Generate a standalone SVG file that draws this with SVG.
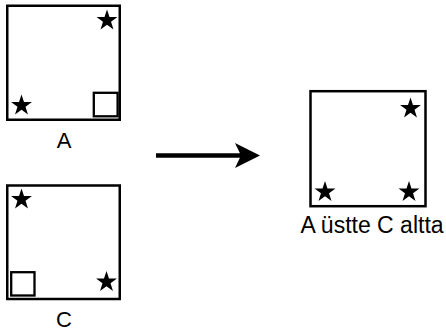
<svg xmlns="http://www.w3.org/2000/svg" xmlns:xlink="http://www.w3.org/1999/xlink" width="446" height="333" viewBox="0 0 446 333">
<defs>
<style>
.box{fill:#fff;stroke:#000;stroke-width:2.5}
.sq{fill:none;stroke:#000;stroke-width:2.3}
.lbl{font-family:"Liberation Sans",Arial,sans-serif;font-size:22px;fill:#000;text-anchor:middle}
</style>
<path id="star" d="M0,-11 L2.49,-3.43 L10.46,-3.4 L4.03,1.31 L6.47,8.9 L0,4.24 L-6.47,8.9 L-4.03,1.31 L-10.46,-3.4 L-2.49,-3.43 Z" fill="#000"/>
<marker id="ah" markerWidth="6" markerHeight="6" refX="0" refY="0" orient="auto" markerUnits="userSpaceOnUse" overflow="visible">
<path d="M-6,-12.5 L19,0 L-6,12.5 L0,0 Z" fill="#000"/>
</marker>
</defs>
<rect width="446" height="333" fill="#fff"/>
<g id="nodeA">
<rect class="box" x="7.25" y="5.75" width="112.5" height="114"/>
<use xlink:href="#star" x="107" y="20.5"/>
<use xlink:href="#star" x="21.5" y="105.5"/>
<rect class="sq" x="93.8" y="92.8" width="23.8" height="23.5"/>
<text class="lbl" x="64" y="148">A</text>
</g>
<g id="nodeC">
<rect class="box" x="7.25" y="185.5" width="112.5" height="113.5"/>
<use xlink:href="#star" x="21.5" y="199.5"/>
<use xlink:href="#star" x="106.5" y="282"/>
<rect class="sq" x="11.2" y="272.2" width="23.3" height="23.3"/>
<text class="lbl" x="64" y="327">C</text>
</g>
<g id="nodeResult">
<rect class="box" x="310.5" y="91.2" width="115" height="115"/>
<use xlink:href="#star" x="410.5" y="108.5"/>
<use xlink:href="#star" x="325" y="192"/>
<use xlink:href="#star" x="409" y="192"/>
<text class="lbl" x="372" y="233" style="font-size:23px">A üstte C altta</text>
</g>
<g id="connectors">
<line x1="156" y1="155.5" x2="241" y2="155.5" stroke="#000" stroke-width="4.5" marker-end="url(#ah)"/>
</g>
</svg>
